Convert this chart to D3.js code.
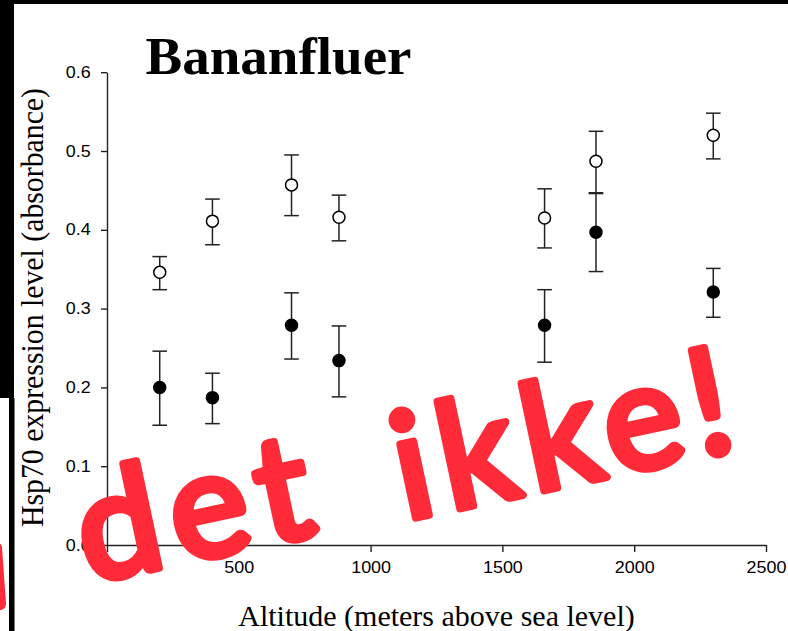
<!DOCTYPE html>
<html>
<head>
<meta charset="utf-8">
<script src="https://cdn.jsdelivr.net/npm/d3@7/dist/d3.min.js"></script>
<style>
  html, body { margin: 0; padding: 0; background: #fff; }
  svg { display: block; }
</style>
</head>
<body>
<script>
// Altitude of each collection site (m above sea level)
const altitude = [200, 400, 700, 880, 1660, 1855, 2300];

// Open circles: mean absorbance with error-bar limits
const openMean = [0.346, 0.411, 0.457, 0.416, 0.415, 0.487, 0.520];
const openLow  = [0.324, 0.381, 0.418, 0.386, 0.377, 0.446, 0.490];
const openHigh = [0.366, 0.439, 0.495, 0.444, 0.452, 0.525, 0.548];

// Filled circles: mean absorbance with error-bar limits
const filledMean = [0.200, 0.187, 0.279, 0.234, 0.279, 0.397, 0.321];
const filledLow  = [0.152, 0.154, 0.236, 0.188, 0.232, 0.347, 0.289];
const filledHigh = [0.246, 0.218, 0.320, 0.278, 0.324, 0.447, 0.351];

const xTicks = [0, 500, 1000, 1500, 2000, 2500];
const yTicks = [0.0, 0.1, 0.2, 0.3, 0.4, 0.5, 0.6];

const title = "Bananfluer";
const xTitle = "Altitude (meters above sea level)";
const yTitle = "Hsp70 expression level (absorbance)";
const stampWords = ["det", "ikke!"];

const W = 788, H = 631;
const svg = d3.select("body").append("svg").attr("width", W).attr("height", H);

// frame edges
svg.append("rect").attr("x", 0).attr("y", 0).attr("width", W).attr("height", 4).attr("fill", "#000");
svg.append("rect").attr("x", 0).attr("y", 0).attr("width", 14).attr("height", 398).attr("fill", "#000");
svg.append("rect").attr("x", 9).attr("y", 398).attr("width", 5.5).attr("height", H - 398).attr("fill", "#000");

const x = d3.scaleLinear().domain([0, 2500]).range([107, 766]);
const y = d3.scaleLinear().domain([0, 0.6]).range([545, 72.2]);

const axisColor = "#222";

// x axis
const gx = svg.append("g").attr("transform", `translate(0,${y(0)})`)
  .call(d3.axisBottom(x).tickValues(xTicks).tickSize(7).tickSizeOuter(0).tickPadding(10)
    .tickFormat(d => d === 0 ? "" : d3.format("d")(d)));
gx.select(".domain").attr("stroke", axisColor).attr("stroke-width", 1.4);
gx.selectAll(".tick line").attr("stroke", axisColor).attr("stroke-width", 1.4);
gx.selectAll(".tick text")
  .attr("font-family", "'Liberation Sans', Arial, sans-serif").attr("font-size", 16)
  .attr("fill", "#000").attr("transform", "scale(1.12,1)");

// y axis
const gy = svg.append("g").attr("transform", `translate(${x(0)},0)`)
  .call(d3.axisLeft(y).tickValues(yTicks).tickSize(6).tickSizeOuter(0).tickPadding(8)
    .tickFormat(d3.format(".1f")));
gy.select(".domain").attr("stroke", axisColor).attr("stroke-width", 1.4);
gy.selectAll(".tick line").attr("stroke", axisColor).attr("stroke-width", 1.4);
gy.selectAll(".tick text")
  .attr("font-family", "'Liberation Sans', Arial, sans-serif").attr("font-size", 16)
  .attr("fill", "#000").attr("x", -14.5).attr("transform", "scale(1.12,1)");

// error bars and markers
function series(mean, low, high, fill) {
  const g = svg.append("g");
  const capW = 7.3;
  altitude.forEach((a, i) => {
    const cx = x(a);
    g.append("line").attr("x1", cx).attr("x2", cx).attr("y1", y(low[i])).attr("y2", y(high[i]))
      .attr("stroke", axisColor).attr("stroke-width", 1.5);
    [low[i], high[i]].forEach(v => {
      g.append("line").attr("x1", cx - capW).attr("x2", cx + capW).attr("y1", y(v)).attr("y2", y(v))
        .attr("stroke", axisColor).attr("stroke-width", 1.5);
    });
  });
  g.selectAll("circle").data(mean).join("circle")
    .attr("cx", (d, i) => x(altitude[i])).attr("cy", d => y(d)).attr("r", 6)
    .attr("fill", fill).attr("stroke", "#000").attr("stroke-width", 1.5);
}
series(openMean, openLow, openHigh, "#fff");
series(filledMean, filledLow, filledHigh, "#000");

// titles
svg.append("text").attr("x", 145.5).attr("y", 73.5)
  .attr("font-family", "'Liberation Serif', 'Times New Roman', serif").attr("font-weight", "bold")
  .attr("font-size", 53).attr("textLength", 266).attr("lengthAdjust", "spacingAndGlyphs")
  .text(title);

svg.append("text").attr("x", 436.5).attr("y", 626).attr("text-anchor", "middle")
  .attr("font-family", "'Liberation Serif', 'Times New Roman', serif").attr("font-size", 30)
  .text(xTitle);

svg.append("text").attr("transform", "translate(43,307.5) rotate(-90)").attr("text-anchor", "middle")
  .attr("font-family", "'Liberation Serif', 'Times New Roman', serif").attr("font-size", 30.5)
  .attr("textLength", 439).attr("lengthAdjust", "spacingAndGlyphs")
  .text(yTitle);

// red marker scrawl across the plot
const red = "#ff2b38";
svg.append("line").attr("x1", -4).attr("y1", 548).attr("x2", 0).attr("y2", 604)
  .attr("stroke", red).attr("stroke-width", 12).attr("stroke-linecap", "round");
const stampPlace = [
  { tx: 88, ty: 583, len: 236 },
  { tx: 405, ty: 520, len: 342 }
];
stampWords.forEach((w, i) => {
  const p = stampPlace[i];
  svg.append("text").attr("transform", `translate(${p.tx},${p.ty}) rotate(-12)`)
    .attr("font-family", "Lato, 'Open Sans', sans-serif").attr("font-weight", 400)
    .attr("font-size", 148).attr("textLength", p.len).attr("lengthAdjust", "spacing")
    .attr("fill", red).attr("stroke", red).attr("stroke-width", 8).attr("stroke-linejoin", "round")
    .text(w);
});
</script>
</body>
</html>
